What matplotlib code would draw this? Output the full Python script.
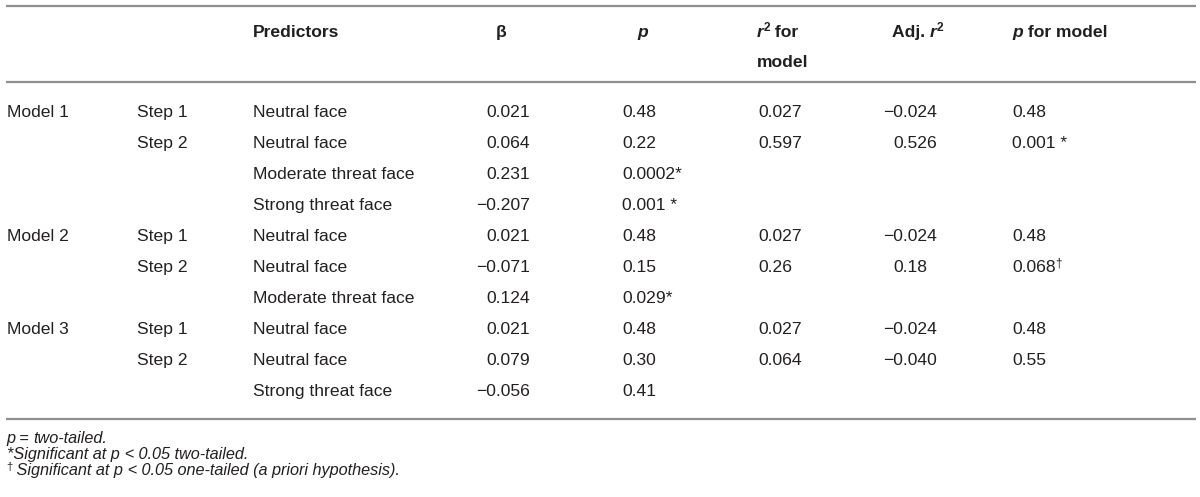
import matplotlib
matplotlib.use("Agg")
import matplotlib.pyplot as plt

# table contents, row by row
model_labels = ["Model 1", "", "", "", "Model 2", "", "", "Model 3", "", ""]
step_labels = ["Step 1", "Step 2", "", "", "Step 1", "Step 2", "", "Step 1", "Step 2", ""]
predictors = ["Neutral face", "Neutral face", "Moderate threat face", "Strong threat face",
              "Neutral face", "Neutral face", "Moderate threat face",
              "Neutral face", "Neutral face", "Strong threat face"]
beta = ["0.021", "0.064", "0.231", "\u22120.207", "0.021", "\u22120.071", "0.124",
        "0.021", "0.079", "\u22120.056"]
p_vals = ["0.48", "0.22", "0.0002*", "0.001 *", "0.48", "0.15", "0.029*", "0.48", "0.30", "0.41"]
r2_model = ["0.027", "0.597", "", "", "0.027", "0.26", "", "0.027", "0.064", ""]
adj_r2 = ["\u22120.024", "0.526", "", "", "\u22120.024", "0.18", "", "\u22120.024", "\u22120.040", ""]
p_model = ["0.48", "0.001 *", "", "", "0.48", "0.068\u2020", "", "0.48", "0.55", ""]

W, H = 1200, 497
TXT = "#231f20"
RULE = "#8f8f8f"
FS = 12.6      # body font size (pt)
FS_NOTE = 11.7
plt.rcParams["font.family"] = ["Liberation Sans", "DejaVu Sans"]

fig = plt.figure(figsize=(W / 100, H / 100), dpi=100)
ax = fig.add_axes([0, 0, 1, 1])
ax.set_xlim(0, W)
ax.set_ylim(H, 0)
ax.axis("off")
rend = fig.canvas.get_renderer()


def draw_runs(x, y, parts):
    # parts: (text, size, dy, kwargs); each piece starts where the last ended
    for s, size, dy, kw in parts:
        t = ax.text(x, y - dy, s, fontsize=size, ha="left", va="baseline", color=TXT, **kw)
        x = t.get_window_extent(renderer=rend).x1
    return x


def text_width(s, size, **kw):
    t = ax.text(0, 0, s, fontsize=size, **kw)
    w = t.get_window_extent(renderer=rend).width
    t.remove()
    return w


minus_w = text_width("\u2212", FS)
bold = dict(fontweight="bold")
bi = dict(fontweight="bold", style="italic")
it = dict(style="italic")
sup = FS * 0.68

# rules
for yy in (6, 82, 419):
    ax.plot([6, 1196], [yy, yy], color=RULE, lw=1.6, solid_capstyle="butt")

# header
h1, h2 = 37, 67
draw_runs(253, h1, [("Predictors", FS, 0, bold)])
draw_runs(496, h1, [("\u03b2", FS, 0, bold)])
draw_runs(637, h1, [("p", FS, 0, bi)])
draw_runs(757, h1, [("r", FS, 0, bi), ("2", sup, 6, bold), (" for", FS, 0, bold)])
draw_runs(757, h2, [("model", FS, 0, bold)])
draw_runs(892, h1, [("Adj. ", FS, 0, bold), ("r", FS, 0, bi), ("2", sup, 6, bold)])
draw_runs(1012, h1, [("p", FS, 0, bi), (" for model", FS, 0, bold)])

# body
col_model, col_step, col_pred = 7, 137, 253
col_beta, col_p, col_r2, col_adj, col_pm = 476, 622, 758, 883, 1012


def minus_aligned(x, s):
    return x if s.startswith("\u2212") else x + minus_w


def cell(x, y, s):
    if not s:
        return
    if s.endswith("\u2020"):
        draw_runs(x, y, [(s[:-1], FS, 0, {}), ("\u2020", sup, 6, {})])
    else:
        draw_runs(x, y, [(s, FS, 0, {})])


for i in range(len(predictors)):
    y = 117 + i * 31
    cell(col_model, y, model_labels[i])
    cell(col_step, y, step_labels[i])
    cell(col_pred, y, predictors[i])
    cell(minus_aligned(col_beta, beta[i]), y, beta[i])
    cell(col_p, y, p_vals[i])
    cell(col_r2, y, r2_model[i])
    if adj_r2[i]:
        cell(minus_aligned(col_adj, adj_r2[i]), y, adj_r2[i])
    cell(col_pm, y, p_model[i])

# footnotes
draw_runs(6, 443, [("p", FS_NOTE, 0, it), (" = ", FS_NOTE, 0, {}),
                   ("two-tailed.", FS_NOTE, 0, it)])
draw_runs(7, 459, [("*Significant at p ", FS_NOTE, 0, it), ("<", FS_NOTE, 0, {}),
                   (" 0.05 two-tailed.", FS_NOTE, 0, it)])
draw_runs(6, 475, [("\u2020", FS_NOTE * 0.7, 5, {}), (" Significant at p ", FS_NOTE, 0, it),
                   ("<", FS_NOTE, 0, {}),
                   (" 0.05 one-tailed (a priori hypothesis).", FS_NOTE, 0, it)])

fig.savefig("out.png", dpi=100)
